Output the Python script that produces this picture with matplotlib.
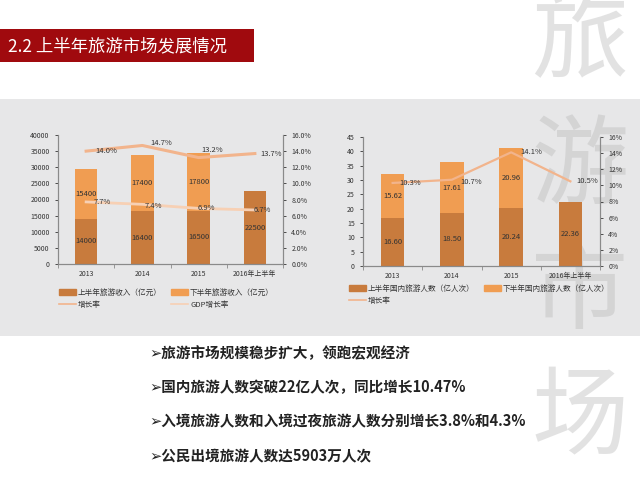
import numpy as np
import matplotlib
matplotlib.use('Agg')
import matplotlib.pyplot as plt
from matplotlib.patches import Rectangle, Patch
from matplotlib.lines import Line2D

plt.rcParams['font.family'] = ['Noto Sans CJK SC', 'DejaVu Sans']

# data
years = ['2013', '2014', '2015', '2016年上半年']
inc_h1 = [14000, 16400, 16500, 22500]
inc_h2 = [15400, 17400, 17800, 0]
inc_growth = [14.0, 14.7, 13.2, 13.7]
gdp_growth = [7.7, 7.4, 6.9, 6.7]

trip_h1 = [16.60, 18.50, 20.24, 22.36]
trip_h2 = [15.62, 17.61, 20.96, 0]
trip_growth = [10.3, 10.7, 14.1, 10.5]

bullets = ['旅游市场规模稳步扩大，领跑宏观经济',
           '国内旅游人数突破22亿人次，同比增长10.47%',
           '入境旅游人数和入境过夜旅游人数分别增长3.8%和4.3%',
           '公民出境旅游人数达5903万人次']

c_h1 = '#C87B3D'
c_h2 = '#F09D52'
c_line = '#F2B48C'
c_gdp = '#F7D0B4'
c_txt = '#333333'
c_spine = '#8a8a8a'

W, H = 640, 479
fig = plt.figure(figsize=(6.4, 4.79), dpi=100)
fig.patch.set_facecolor('white')

def fx(px):
    return px / W

def fy(py):
    return 1 - py / H

# gray band and title box
fig.patches.append(Rectangle((0, fy(336)), 1, fy(99) - fy(336), transform=fig.transFigure,
                             facecolor='#E7E7E8', edgecolor='none', zorder=-10))
fig.patches.append(Rectangle((0, fy(62)), fx(254), fy(29) - fy(62), transform=fig.transFigure,
                             facecolor='#A00A0E', edgecolor='none', zorder=-4))
fig.text(fx(8), fy(46), '2.2 上半年旅游市场发展情况', color='white', fontsize=12.5,
         va='center', ha='left', zorder=-3)

# watermark characters on the right
for ch, cy in zip('旅游市场', [42, 168, 293, 420]):
    fig.text(fx(580), fy(cy), ch, fontsize=70, color='#B8B8B8', alpha=0.4,
             ha='center', va='center', zorder=-5)


def style_axes(ax, ax2):
    for a in (ax, ax2):
        a.set_facecolor('none')
        a.spines['top'].set_visible(False)
        for s in ('left', 'right', 'bottom'):
            a.spines[s].set_color(c_spine)
            a.spines[s].set_linewidth(0.8)
        a.tick_params(labelsize=5, colors=c_txt, length=2.5, width=0.6)
    ax.tick_params(axis='x', length=0, pad=4)
    ax.set_xticks(np.arange(-0.5, 4, 1), minor=True)
    ax.tick_params(axis='x', which='minor', length=3, width=0.6, color=c_spine)
    ax.set_xlim(-0.5, 3.5)


x = np.arange(len(years))
bw = 0.4

# left chart: tourism income
ax = fig.add_axes([fx(58), fy(264), fx(283) - fx(58), fy(135) - fy(264)])
ax2 = ax.twinx()
ax.bar(x, inc_h1, bw, color=c_h1, zorder=2)
ax.bar(x, inc_h2, bw, bottom=inc_h1, color=c_h2, zorder=2)
ax.set_ylim(0, 40000)
ax.set_yticks(np.arange(0, 40001, 5000))
ax.set_xticks(x)
ax.set_xticklabels(years)
ax2.set_ylim(0, 16)
ax2.set_yticks(np.arange(0, 16.1, 2))
ax2.set_yticklabels(['%.1f%%' % v for v in np.arange(0, 16.1, 2)])
ax2.plot(x, inc_growth, color=c_line, lw=2.2, zorder=3)
ax2.plot(x, gdp_growth, color=c_gdp, lw=2.0, zorder=3)
style_axes(ax, ax2)

for i in range(len(x)):
    ax.text(x[i], inc_h1[i] / 2, str(inc_h1[i]), ha='center', va='center', fontsize=5.5, color=c_txt)
    if inc_h2[i]:
        ax.text(x[i], inc_h1[i] + inc_h2[i] / 2, str(inc_h2[i]), ha='center', va='center',
                fontsize=5.5, color=c_txt)

offs_g = [(20, 0), (19, 2), (14, 8), (16, 0)]
offs_d = [(16, 0), (11, -2), (8, 0), (7, 0)]
for i in range(len(x)):
    ax2.annotate('%.1f%%' % inc_growth[i], (x[i], inc_growth[i]), xytext=offs_g[i],
                 textcoords='offset pixels', ha='center', va='center', fontsize=5.5, color=c_txt)
    ax2.annotate('%.1f%%' % gdp_growth[i], (x[i], gdp_growth[i]), xytext=offs_d[i],
                 textcoords='offset pixels', ha='center', va='center', fontsize=5.5, color=c_txt)

fig.legend([Patch(color=c_h1), Line2D([], [], color=c_line, lw=1.2),
            Patch(color=c_h2), Line2D([], [], color=c_gdp, lw=1.2)],
           ['上半年旅游收入（亿元）', '增长率', '下半年旅游收入（亿元）', 'GDP增长率'],
           ncol=2, loc='upper left', bbox_to_anchor=(fx(55), fy(285)), frameon=False,
           fontsize=5.5, handlelength=2.2, handleheight=0.9, labelspacing=0.5,
           columnspacing=1.2, handletextpad=0.3, borderpad=0, labelcolor=c_txt)

# right chart: domestic trips
bx = fig.add_axes([fx(363), fy(266), fx(600) - fx(363), fy(137) - fy(266)])
bx2 = bx.twinx()
bx.bar(x, trip_h1, bw, color=c_h1, zorder=2)
bx.bar(x, trip_h2, bw, bottom=trip_h1, color=c_h2, zorder=2)
bx.set_ylim(0, 45)
bx.set_yticks(np.arange(0, 46, 5))
bx.set_xticks(x)
bx.set_xticklabels(years)
bx2.set_ylim(0, 16)
bx2.set_yticks(np.arange(0, 16.1, 2))
bx2.set_yticklabels(['%d%%' % v for v in np.arange(0, 16.1, 2)])
bx2.plot(x, trip_growth, color=c_line, lw=1.6, zorder=3)
style_axes(bx, bx2)

for i in range(len(x)):
    bx.text(x[i], trip_h1[i] / 2, '%.2f' % trip_h1[i], ha='center', va='center', fontsize=5.5, color=c_txt)
    if trip_h2[i]:
        bx.text(x[i], trip_h1[i] + trip_h2[i] / 2, '%.2f' % trip_h2[i], ha='center', va='center',
                fontsize=5.5, color=c_txt)

offs_t = [(18, 0), (19, -2), (20, 0), (17, 0)]
for i in range(len(x)):
    bx2.annotate('%.1f%%' % trip_growth[i], (x[i], trip_growth[i]), xytext=offs_t[i],
                 textcoords='offset pixels', ha='center', va='center', fontsize=5.5, color=c_txt)

fig.legend([Patch(color=c_h1), Line2D([], [], color=c_line, lw=1.2), Patch(color=c_h2)],
           ['上半年国内旅游人数（亿人次）', '增长率', '下半年国内旅游人数（亿人次）'],
           ncol=2, loc='upper left', bbox_to_anchor=(fx(345), fy(281)), frameon=False,
           fontsize=5.5, handlelength=2.2, handleheight=0.9, labelspacing=0.5,
           columnspacing=1.2, handletextpad=0.3, borderpad=0, labelcolor=c_txt)

# bullet points
for t, yy in zip(bullets, [353, 387, 421, 456]):
    fig.text(fx(149), fy(yy), '➢' + t, fontsize=10.5, fontweight='bold', color='#222222',
             ha='left', va='center')

fig.savefig('out.png', dpi=100)
